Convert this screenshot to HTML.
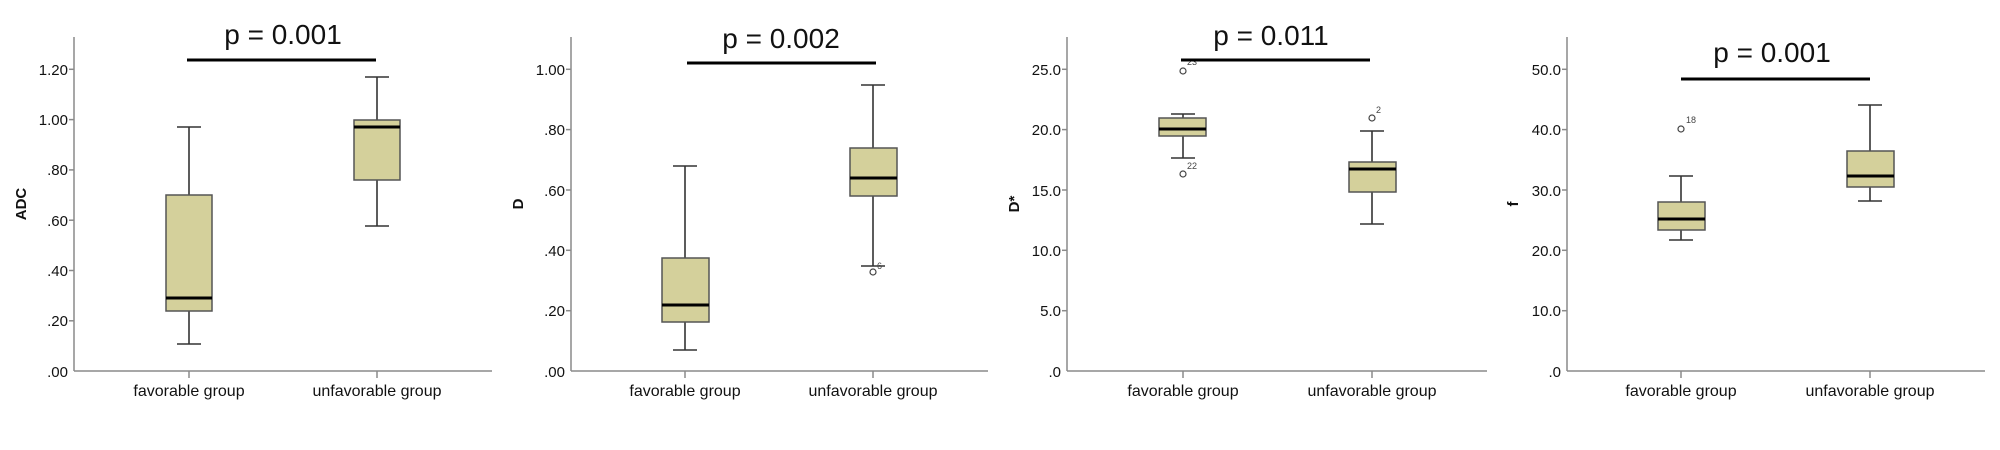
<!DOCTYPE html>
<html><head><meta charset="utf-8"><style>
html,body{margin:0;padding:0;background:#fff;}
svg{display:block;}
text{font-family:"Liberation Sans",Arial,sans-serif;fill:#111;}
.tk{font-size:15px;text-anchor:end;}
.cat{font-size:16px;text-anchor:middle;}
.p{font-size:28px;text-anchor:middle;}
.yl{font-size:15px;font-weight:bold;text-anchor:middle;}
.ax{stroke:#8a8a8a;stroke-width:1.5;fill:none;}
.wh{stroke:#333;stroke-width:1.6;fill:none;}
.bx{fill:#d4d09b;stroke:#555;stroke-width:1.5;}
.md{stroke:#000;stroke-width:3;}
.sig{stroke:#000;stroke-width:3;}
.out{fill:none;stroke:#444;stroke-width:1.2;}
.ol{font-size:9px;fill:#444;}
</style></head><body>
<svg width="2000" height="450" viewBox="0 0 2000 450" xmlns="http://www.w3.org/2000/svg">
<!-- Panel 1 -->
<g>
<line class="ax" x1="74" y1="37" x2="74" y2="371"/>
<line class="ax" x1="74" y1="371" x2="492" y2="371"/>
<g class="ax">
<line x1="69" y1="69.3" x2="74" y2="69.3"/><line x1="69" y1="119.6" x2="74" y2="119.6"/><line x1="69" y1="169.9" x2="74" y2="169.9"/><line x1="69" y1="220.2" x2="74" y2="220.2"/><line x1="69" y1="270.5" x2="74" y2="270.5"/><line x1="69" y1="320.8" x2="74" y2="320.8"/>
<line x1="189" y1="371" x2="189" y2="378"/><line x1="377" y1="371" x2="377" y2="378"/>
</g>
<text class="tk" x="68" y="75">1.20</text><text class="tk" x="68" y="125">1.00</text><text class="tk" x="68" y="175">.80</text><text class="tk" x="68" y="226">.60</text><text class="tk" x="68" y="276">.40</text><text class="tk" x="68" y="326">.20</text><text class="tk" x="68" y="377">.00</text>
<text class="cat" x="189" y="396">favorable group</text><text class="cat" x="377" y="396">unfavorable group</text>
<text class="yl" transform="translate(26,204) rotate(-90)">ADC</text>
<line class="wh" x1="189" y1="127" x2="189" y2="344"/><line class="wh" x1="177" y1="127" x2="201" y2="127"/><line class="wh" x1="177" y1="344" x2="201" y2="344"/>
<rect class="bx" x="166" y="195" width="46" height="116"/><line class="md" x1="166" y1="298" x2="212" y2="298"/>
<line class="wh" x1="377" y1="77" x2="377" y2="226"/><line class="wh" x1="365" y1="77" x2="389" y2="77"/><line class="wh" x1="365" y1="226" x2="389" y2="226"/>
<rect class="bx" x="354" y="120" width="46" height="60"/><line class="md" x1="354" y1="127" x2="400" y2="127"/>
<line class="sig" x1="187" y1="60" x2="376" y2="60"/>
<text class="p" x="283" y="44">p = 0.001</text>
</g>
<!-- Panel 2 -->
<g>
<line class="ax" x1="571" y1="37" x2="571" y2="371"/>
<line class="ax" x1="571" y1="371" x2="988" y2="371"/>
<g class="ax">
<line x1="566" y1="69.3" x2="571" y2="69.3"/><line x1="566" y1="129.6" x2="571" y2="129.6"/><line x1="566" y1="190" x2="571" y2="190"/><line x1="566" y1="250.3" x2="571" y2="250.3"/><line x1="566" y1="310.7" x2="571" y2="310.7"/>
<line x1="685" y1="371" x2="685" y2="378"/><line x1="873" y1="371" x2="873" y2="378"/>
</g>
<text class="tk" x="565" y="75">1.00</text><text class="tk" x="565" y="135">.80</text><text class="tk" x="565" y="196">.60</text><text class="tk" x="565" y="256">.40</text><text class="tk" x="565" y="316">.20</text><text class="tk" x="565" y="377">.00</text>
<text class="cat" x="685" y="396">favorable group</text><text class="cat" x="873" y="396">unfavorable group</text>
<text class="yl" transform="translate(523,204) rotate(-90)">D</text>
<line class="wh" x1="685" y1="166" x2="685" y2="350"/><line class="wh" x1="673" y1="166" x2="697" y2="166"/><line class="wh" x1="673" y1="350" x2="697" y2="350"/>
<rect class="bx" x="662" y="258" width="47" height="64"/><line class="md" x1="662" y1="305" x2="709" y2="305"/>
<line class="wh" x1="873" y1="85" x2="873" y2="266"/><line class="wh" x1="861" y1="85" x2="885" y2="85"/><line class="wh" x1="861" y1="266" x2="885" y2="266"/>
<rect class="bx" x="850" y="148" width="47" height="48"/><line class="md" x1="850" y1="178" x2="897" y2="178"/>
<circle class="out" cx="873" cy="272" r="3"/><text class="ol" x="877" y="269">6</text>
<line class="sig" x1="687" y1="63" x2="876" y2="63"/>
<text class="p" x="781" y="48">p = 0.002</text>
</g>
<!-- Panel 3 -->
<g>
<line class="ax" x1="1067" y1="37" x2="1067" y2="371"/>
<line class="ax" x1="1067" y1="371" x2="1487" y2="371"/>
<g class="ax">
<line x1="1062" y1="69.3" x2="1067" y2="69.3"/><line x1="1062" y1="129.6" x2="1067" y2="129.6"/><line x1="1062" y1="190" x2="1067" y2="190"/><line x1="1062" y1="250.3" x2="1067" y2="250.3"/><line x1="1062" y1="310.7" x2="1067" y2="310.7"/>
<line x1="1183" y1="371" x2="1183" y2="378"/><line x1="1372" y1="371" x2="1372" y2="378"/>
</g>
<text class="tk" x="1061" y="75">25.0</text><text class="tk" x="1061" y="135">20.0</text><text class="tk" x="1061" y="196">15.0</text><text class="tk" x="1061" y="256">10.0</text><text class="tk" x="1061" y="316">5.0</text><text class="tk" x="1061" y="377">.0</text>
<text class="cat" x="1183" y="396">favorable group</text><text class="cat" x="1372" y="396">unfavorable group</text>
<text class="yl" transform="translate(1019,204) rotate(-90)">D*</text>
<line class="wh" x1="1183" y1="114" x2="1183" y2="158"/><line class="wh" x1="1171" y1="114" x2="1195" y2="114"/><line class="wh" x1="1171" y1="158" x2="1195" y2="158"/>
<rect class="bx" x="1159" y="118" width="47" height="18"/><line class="md" x1="1159" y1="129" x2="1206" y2="129"/>
<circle class="out" cx="1183" cy="71" r="3"/><text class="ol" x="1187" y="65">23</text>
<circle class="out" cx="1183" cy="174" r="3"/><text class="ol" x="1187" y="169">22</text>
<line class="wh" x1="1372" y1="131" x2="1372" y2="224"/><line class="wh" x1="1360" y1="131" x2="1384" y2="131"/><line class="wh" x1="1360" y1="224" x2="1384" y2="224"/>
<rect class="bx" x="1349" y="162" width="47" height="30"/><line class="md" x1="1349" y1="169" x2="1396" y2="169"/>
<circle class="out" cx="1372" cy="118" r="3"/><text class="ol" x="1376" y="113">2</text>
<line class="sig" x1="1181" y1="60" x2="1370" y2="60"/>
<text class="p" x="1271" y="45">p = 0.011</text>
</g>
<!-- Panel 4 -->
<g>
<line class="ax" x1="1567" y1="37" x2="1567" y2="371"/>
<line class="ax" x1="1567" y1="371" x2="1985" y2="371"/>
<g class="ax">
<line x1="1562" y1="69.3" x2="1567" y2="69.3"/><line x1="1562" y1="129.6" x2="1567" y2="129.6"/><line x1="1562" y1="190" x2="1567" y2="190"/><line x1="1562" y1="250.3" x2="1567" y2="250.3"/><line x1="1562" y1="310.7" x2="1567" y2="310.7"/>
<line x1="1681" y1="371" x2="1681" y2="378"/><line x1="1870" y1="371" x2="1870" y2="378"/>
</g>
<text class="tk" x="1561" y="75">50.0</text><text class="tk" x="1561" y="135">40.0</text><text class="tk" x="1561" y="196">30.0</text><text class="tk" x="1561" y="256">20.0</text><text class="tk" x="1561" y="316">10.0</text><text class="tk" x="1561" y="377">.0</text>
<text class="cat" x="1681" y="396">favorable group</text><text class="cat" x="1870" y="396">unfavorable group</text>
<text class="yl" transform="translate(1518,204) rotate(-90)">f</text>
<line class="wh" x1="1681" y1="176" x2="1681" y2="240"/><line class="wh" x1="1669" y1="176" x2="1693" y2="176"/><line class="wh" x1="1669" y1="240" x2="1693" y2="240"/>
<rect class="bx" x="1658" y="202" width="47" height="28"/><line class="md" x1="1658" y1="219" x2="1705" y2="219"/>
<circle class="out" cx="1681" cy="129" r="3"/><text class="ol" x="1686" y="123">18</text>
<line class="wh" x1="1870" y1="105" x2="1870" y2="201"/><line class="wh" x1="1858" y1="105" x2="1882" y2="105"/><line class="wh" x1="1858" y1="201" x2="1882" y2="201"/>
<rect class="bx" x="1847" y="151" width="47" height="36"/><line class="md" x1="1847" y1="176" x2="1894" y2="176"/>
<line class="sig" x1="1681" y1="79" x2="1870" y2="79"/>
<text class="p" x="1772" y="62">p = 0.001</text>
</g>
</svg>
</body></html>
